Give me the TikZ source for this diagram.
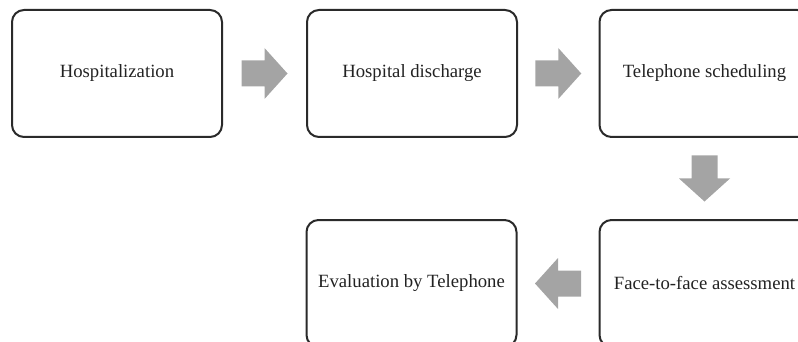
\documentclass[tikz,border=0pt]{standalone}
\usepackage{fontspec}
\setmainfont{Liberation Serif}
\usetikzlibrary{calc}
\definecolor{boxline}{HTML}{2A2A2A}
\definecolor{arrowgray}{HTML}{A4A4A4}
\definecolor{txt}{HTML}{222222}
\tikzset{
  box/.style={draw=boxline, line width=2pt, rounded corners=12pt, minimum width=210pt, minimum height=127pt, inner sep=0pt, text=txt, font=\fontsize{18.7}{22}\selectfont},
  blockarr/.pic={\fill[arrowgray] (-23,-13) -- (0,-13) -- (0,-25.5) -- (23,0) -- (0,25.5) -- (0,13) -- (-23,13) -- cycle;}
}
\begin{document}
\begin{tikzpicture}[x=1pt,y=-1pt]
\useasboundingbox (0,0) rectangle (798,342);
\node[box] (b1) at (117,73.5) {Hospitalization};
\node[box] (b2) at (412,73.5) {Hospital discharge};
\node[box] (b3) at (704.5,73.5) {Telephone scheduling};
\node[box] (b4) at (411.5,283.5) {Evaluation by Telephone};
\node[box] (b5) at (704.5,283.5) {Face-to-face assessment};
\coordinate (a1) at ($(b1.east)!0.5!(b2.west)$);
\coordinate (a2) at ($(b2.east)!0.5!(b3.west)$);
\coordinate (a3) at ($(b3.south)!0.5!(b5.north)$);
\coordinate (a4) at ($(b4.east)!0.5!(b5.west)$);
\pic at (a1) {blockarr};
\pic at (a2) {blockarr};
\pic[rotate=-90] at (a3) {blockarr};
\pic[rotate=180] at (a4) {blockarr};
\end{tikzpicture}
\end{document}
